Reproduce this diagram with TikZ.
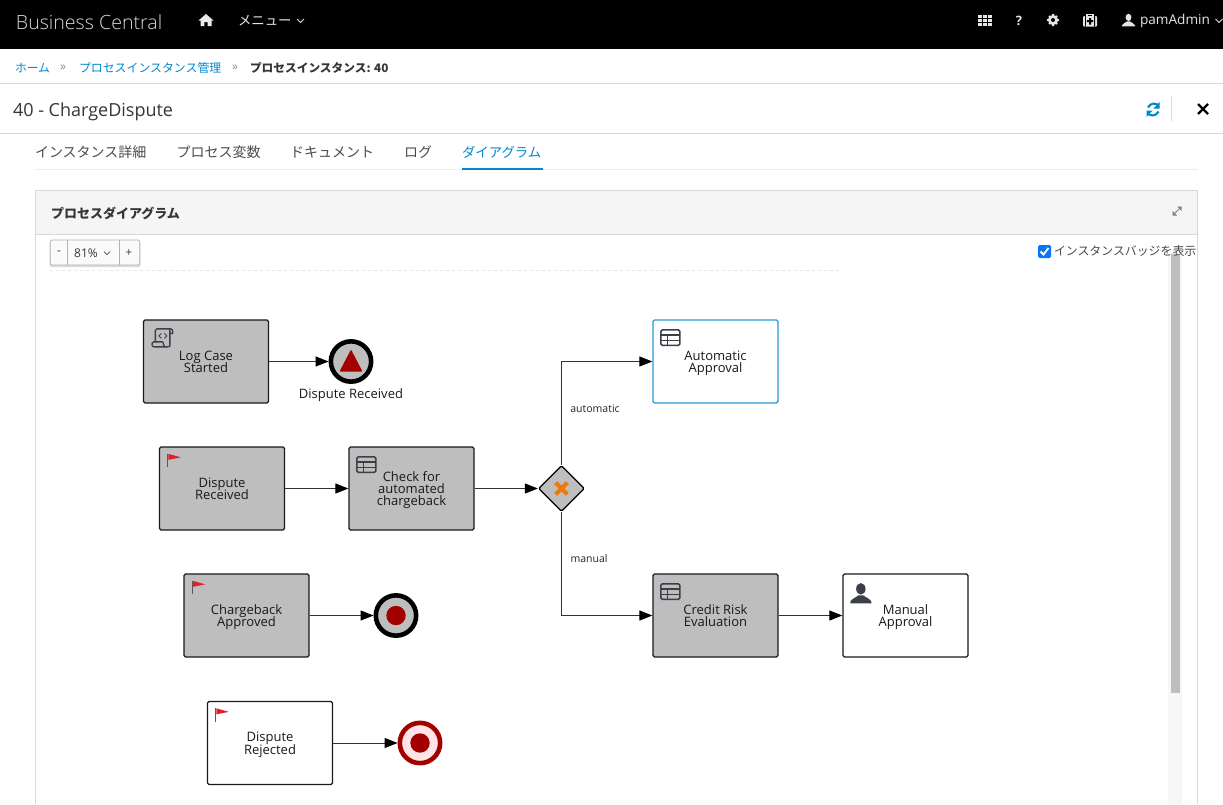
\documentclass[tikz,border=0pt]{standalone}
\usepackage{fontspec}
\setmainfont{Open Sans}
\newfontfamily\jpf{Noto Sans CJK JP}
\newfontfamily\lightf{Open Sans Light}
\usetikzlibrary{arrows.meta,shapes.geometric,calc}
\newcommand{\fs}[1]{\fontsize{#1}{#1}\selectfont}
\newcommand{\taskfont}{\fontsize{13}{12.3}\selectfont\lineskiplimit=-100pt\relax}
\newcommand{\topstrut}{\rule{0pt}{13.5pt}}
\definecolor{pfblue}{HTML}{0088CE}
\definecolor{taskgray}{HTML}{BEBEBE}
\definecolor{endred}{HTML}{A30000}
\definecolor{iconink}{HTML}{3B4048}
\definecolor{uiink}{HTML}{363636}
\definecolor{rule}{HTML}{D8D8D8}
\definecolor{gwx}{HTML}{EC7A08}
\definecolor{checkblue}{HTML}{0A76F6}
\definecolor{flagred}{HTML}{E3202A}
\tikzset{
  ui/.style={inner sep=0pt,outer sep=0pt,anchor=west,text=uiink},
  tasknode/.style={draw=black!90,line width=1.3pt,rounded corners=1.5pt,minimum width=125pt,minimum height=83pt,inner sep=0pt,align=center,font=\taskfont,text=black!90,
    execute at end node={\rule[-3.3pt]{0pt}{0pt}}},
  donetask/.style={tasknode,fill=taskgray},
  opentask/.style={tasknode,fill=white},
  flow/.style={draw=black!80,line width=1pt,-{Triangle[length=13pt,width=10pt,color=black,fill=black]}},
  endring/.style={circle,draw=black,line width=4.6pt,fill=taskgray,minimum size=40.3pt,inner sep=0pt},
  edgelabel/.style={inner sep=0pt,font=\fs{10.5},text=black!85},
}
\newcommand{\flagicon}[1]{\begin{scope}[shift={(#1.north west)}]
  \draw[line width=1.1pt,black!65] (9,7.5) -- (9,21);
  \fill[flagred] (9.5,7.5) -- (22,11) -- (9.5,13.5) -- cycle;
\end{scope}}
\newcommand{\tableicon}[1]{\begin{scope}[shift={(#1.north west)}]
  \draw[iconink,line width=1.7pt,rounded corners=1.5pt] (8.5,10.5) rectangle (27.5,26);
  \draw[iconink,line width=1.5pt] (8.5,15.7) -- (27.5,15.7);
  \draw[iconink,line width=1.1pt] (8.5,20.8) -- (27.5,20.8) (14.8,15.7) -- (14.8,26);
\end{scope}}
\newcommand{\personshape}[1]{\fill[#1] (10.5,5.5) ellipse (4.7 and 5.8);
  \fill[#1] (0,20) -- (0,18.5) .. controls (1,15.5) and (5,14.5) .. (8,12) -- (13,12) .. controls (16,14.5) and (20,15.5) .. (21,18.5) -- (21,20) -- cycle;}
\begin{document}
\begin{tikzpicture}[x=1pt,y=-1pt]
\useasboundingbox (0,0) rectangle (1223,804);
\fill[white] (0,0) rectangle (1223,804);
% top bar
\fill[black] (0,0) rectangle (1223,49);
\node[ui,text=white!85!black,font=\lightf\fs{19.6}] (brand) at (16,22) {Business Central};
\begin{scope}[shift={(199,14)}]
  \fill[white!92!black] (7,0) -- (14.5,6.5) -- (12.5,6.5) -- (12.5,12) -- (8.7,12) -- (8.7,8) -- (5.3,8) -- (5.3,12) -- (1.5,12) -- (1.5,6.5) -- (-0.5,6.5) -- cycle;
\end{scope}
\node[ui,text=white!90!black,font=\jpf\fs{13.4}] (menu) at (238,20.5) {メニュー};
\draw[white!85!black,line width=.9pt] (297,19) -- (300.5,22.5) -- (304,19);
\foreach \i in {0,1,2}\foreach \j in {0,1,2}{\fill[white!90!black] ({977.5+\i*5},{14.5+\j*4}) rectangle ++(4,3);}
\node[inner sep=0pt,text=white!90!black,font=\bfseries\fs{13}] (help) at (1019,20.5) {?};
\node[circle,draw=white!90!black,line width=3pt,minimum size=7pt,inner sep=0pt] (gear) at (1053,20) {};
\draw[white!90!black,line width=2pt] (1053,14) -- (1053,26) (1047,20) -- (1059,20) (1049,16) -- (1057,24) (1049,24) -- (1057,16);
\fill[black] (1053,20) circle (2);
\begin{scope}[shift={(1083,15)}]
  \draw[white!90!black,line width=1.2pt] (4,1) -- (4,-.5) -- (10,-.5) -- (10,1);
  \fill[white!90!black,rounded corners=1pt] (0,1) rectangle (14,11.5);
  \fill[black] (2,1) rectangle (2.8,11.5) (11.2,1) rectangle (12,11.5);
  \fill[black] (6,3) rectangle (8,9.5) (3.8,5.2) rectangle (10.2,7.2);
\end{scope}
\begin{scope}[shift={(1122,14)},scale=.62]
  \personshape{white!90!black}
\end{scope}
\node[ui,text=white!90!black,font=\fs{13.6}] (user) at (1140,20.5) {pamAdmin};
\draw[white!85!black,line width=.9pt] (1215.5,19) -- (1219,22.5) -- (1222.5,19);
% breadcrumb
\node[ui,text=pfblue,font=\jpf\fs{11.8}] (bc1) at (15,68) {ホーム};
\node[inner sep=0pt,text=black!45,font=\fs{12}] (sep1) at (63,68) {»};
\node[ui,text=pfblue,font=\jpf\fs{11.9}] (bc2) at (79,68) {プロセスインスタンス管理};
\node[inner sep=0pt,text=black!45,font=\fs{12}] (sep2) at (235,68) {»};
\node[ui,font=\jpf\bfseries\fs{11.7}] (bc3) at (250,68) {プロセスインスタンス: 40};
\draw[rule,line width=1pt] (0,83.5) -- (1223,83.5);
% title
\node[ui,text=uiink,font=\fs{18}] (title) at (13,112) {40 - ChargeDispute};
\draw[rule,line width=1pt] (0,133.5) -- (1223,133.5);
\draw[pfblue,line width=2.1pt] (1158.6,106) .. controls (1156.5,102.5) and (1150.5,102.5) .. (1148,107.5);
\fill[pfblue] (1159.5,102) -- (1159.5,108.5) -- (1153.5,108.5) -- cycle;
\draw[pfblue,line width=2.1pt] (1147.5,113) .. controls (1150,116.5) and (1156,116.5) .. (1158.5,111.5);
\fill[pfblue] (1146.5,117) -- (1146.5,110.5) -- (1152.5,110.5) -- cycle;
\draw[rule,line width=1pt] (1171.5,96) -- (1171.5,121);
\draw[black,line width=2.4pt] (1198,104) -- (1208,114) (1198,114) -- (1208,104);
% tabs
\draw[black!7,line width=1pt] (35,169.5) -- (1198,169.5);
\node[ui,font=\jpf\fs{14},text=black!70] (tab1) at (35,152) {インスタンス詳細};
\node[ui,font=\jpf\fs{14},text=black!70] (tab2) at (176.5,152) {プロセス変数};
\node[ui,font=\jpf\fs{14},text=black!70] (tab3) at (290,152) {ドキュメント};
\node[ui,font=\jpf\fs{14},text=black!70] (tab4) at (404,152) {ログ};
\node[ui,font=\jpf\fs{13.4},text=pfblue] (tab5) at (462,152) {ダイアグラム};
\fill[pfblue] (462,168) rectangle (543,170);
% panel
\fill[black!4] (35.5,190.5) rectangle (1197.5,234.5);
\draw[rule,line width=1pt] (35.5,804) -- (35.5,190.5) -- (1197.5,190.5) -- (1197.5,804);
\draw[rule,line width=1pt] (35.5,234.5) -- (1197.5,234.5);
\node[ui,font=\jpf\bfseries\fs{13},text=uiink] (panel) at (51,213) {プロセスダイアグラム};
\draw[black!50,line width=.9pt] (1173,215) -- (1181,207);
\fill[black!50] (1181.5,206.5) -- (1181.5,211) -- (1177,206.5) -- cycle (1172.5,215.5) -- (1172.5,211) -- (1177,215.5) -- cycle;
% zoom toolbar
\draw[black!10,dashed,line width=1pt] (50,270.5) -- (840,270.5);
\fill[black!14,rounded corners=2pt] (49.5,241) rectangle (140.5,267);
\node[draw=black!30,fill=black!2,line width=.8pt,rounded corners=1.5pt,minimum width=89.5pt,minimum height=25pt,inner sep=0pt] (zoombar) at (95,252.5) {};
\draw[black!30,line width=.8pt] (67,240) -- (67,265) (119,240) -- (119,265);
\node[inner sep=0pt,font=\fs{11.5},text=uiink] (zminus) at (59,253) {-};
\node[inner sep=0pt,font=\fs{12},text=uiink] (zval) at (86,253) {81\%};
\draw[black!70,line width=.7pt] (104,251.5) -- (107,254.5) -- (110,251.5);
\node[inner sep=0pt,font=\fs{11.5},text=uiink] (zplus) at (129,253) {+};
% checkbox and scrollbar
\fill[black!3] (1168,253) rectangle (1182,804);
\fill[taskgray] (1171,254) rectangle (1179.5,693);
\node[fill=checkblue,rounded corners=1.5pt,minimum size=13pt,inner sep=0pt] (check) at (1044.5,251.5) {};
\draw[white,line width=1.8pt] (1040.5,251.5) -- (1043.5,254.5) -- (1048.5,248);
\node[ui,font=\jpf\fs{11.9},text=black!70] (checktxt) at (1054,250.5) {インスタンスバッジを表示};
% tasks
\node[donetask] (logcase) at (206,361.5) {\topstrut Log Case\\Started};
\node[donetask] (disputetask) at (222,488.5) {\topstrut Dispute\\Received};
\node[donetask] (checktask) at (411.5,488.5) {\topstrut Check for\\automated\\chargeback};
\node[opentask,draw=pfblue!85!white] (autotask) at (715.5,361.5) {\topstrut Automatic\\Approval};
\node[donetask] (chargeback) at (246.5,615.5) {\topstrut Chargeback\\Approved};
\node[donetask] (credit) at (715.5,615.5) {\topstrut Credit Risk\\Evaluation};
\node[opentask] (manual) at (905.5,615.5) {\topstrut Manual\\Approval};
\node[opentask] (rejected) at (270,743) {\topstrut Dispute\\Rejected};
% events
\node[endring] (endsignal) at (351,361.5) {};
\node[inner sep=0pt,font=\fs{13},text=black!90] (endsignallabel) at (351,395) {Dispute Received};
\fill[endred,rounded corners=1pt] (351,349.5) -- (362.5,371.5) -- (339.5,371.5) -- cycle;
\node[endring] (endapproved) at (396,615.5) {};
\fill[endred] (endapproved.center) circle (9.7);
\node[endring,draw=endred,fill=red!10!white] (endrejected) at (420,743) {};
\fill[endred] (endrejected.center) circle (9.7);
% gateway
\node[diamond,aspect=1,draw=black,fill=taskgray,line width=1.3pt,rounded corners=1.5pt,minimum width=46pt,minimum height=46pt,inner sep=0pt] (gw) at (561.5,488.5) {};
\draw[gwx,line width=4.2pt] ($(gw.center)+(-5.8,-5.8)$) -- ($(gw.center)+(5.8,5.8)$) ($(gw.center)+(-5.8,5.8)$) -- ($(gw.center)+(5.8,-5.8)$);
% flows
\draw[flow] (logcase.east) -- (endsignal.west);
\draw[flow] (disputetask.east) -- (checktask.west);
\draw[flow] (checktask.east) -- (gw.west);
\draw[flow] (gw.north) |- (autotask.west);
\draw[flow] (gw.south) |- (credit.west);
\draw[flow] (credit.east) -- (manual.west);
\draw[flow] (chargeback.east) -- (endapproved.west);
\draw[flow] (rejected.east) -- (endrejected.west);
\node[edgelabel] (lblauto) at (595,409) {automatic};
\node[edgelabel] (lblman) at (589,559) {manual};
% task icons
\flagicon{disputetask}
\flagicon{chargeback}
\flagicon{rejected}
\tableicon{checktask}
\tableicon{autotask}
\tableicon{credit}
\begin{scope}[shift={(manual.north west)}]
  \begin{scope}[shift={(8,10)}]\personshape{iconink}\end{scope}
\end{scope}
\begin{scope}[shift={(logcase.north west)}]
  \draw[iconink,line width=1.3pt,line join=round] (12.5,21.5) -- (12.5,11) .. controls (12.5,10) and (13,9.5) .. (14,9.5) -- (28,9.5) .. controls (29.5,9.5) and (30,11) .. (30,14) -- (27,14);
  \draw[iconink,line width=1.3pt,line join=round] (27,10) -- (27,26.5) .. controls (27,27.5) and (26,27.5) .. (25,27.5) -- (11,27.5) .. controls (8.5,27.5) and (8.5,22.5) .. (11,22.5) -- (20,22.5) .. controls (20.5,24) and (20.5,26) .. (22,27.5);
  \draw[iconink,line width=.9pt] (18.5,14) -- (16,16.5) -- (18.5,19) (21.5,14) -- (24,16.5) -- (21.5,19);
\end{scope}
\end{tikzpicture}
\end{document}
